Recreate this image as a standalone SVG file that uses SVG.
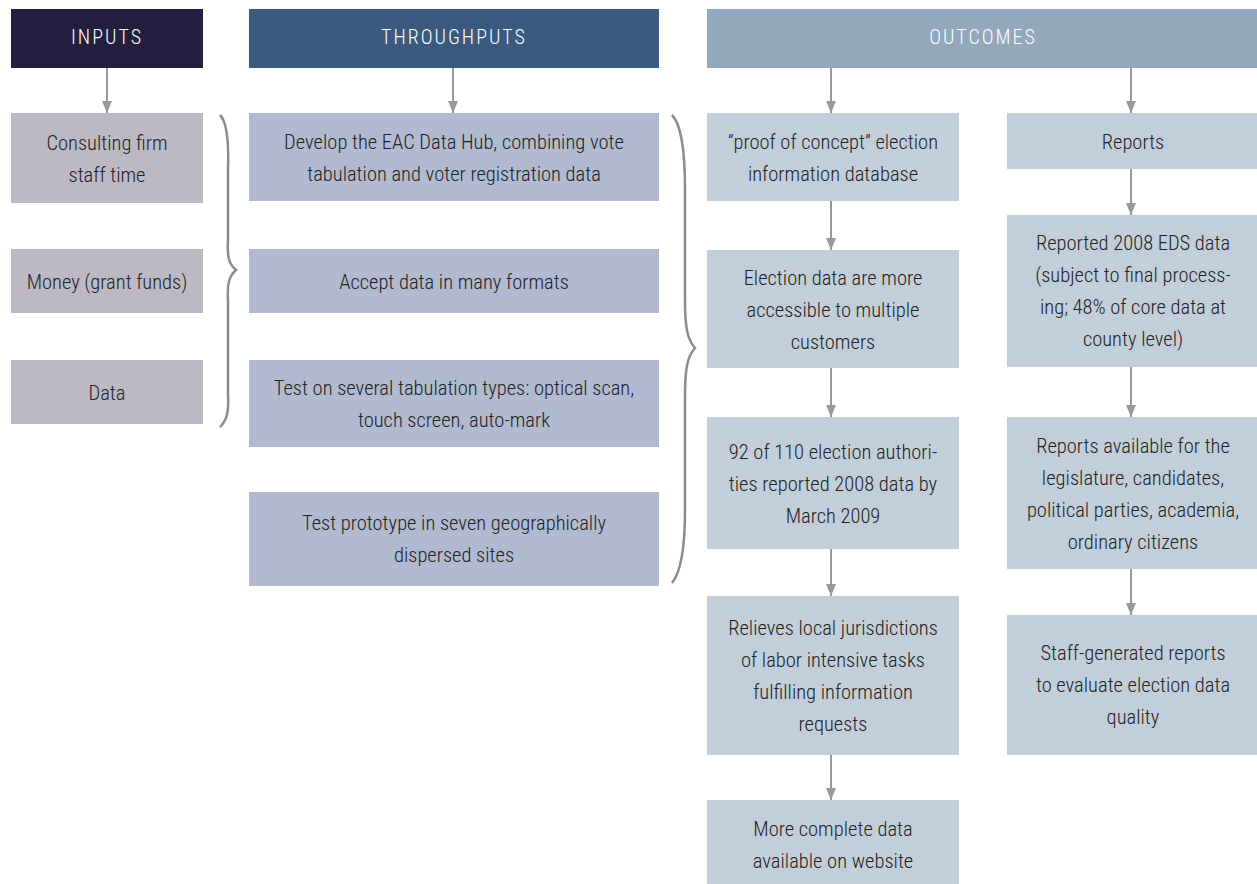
<svg xmlns="http://www.w3.org/2000/svg" width="1257" height="884" viewBox="0 0 1257 884">
<style>
text{font-family:"Liberation Sans Narrow","Roboto Condensed","Liberation Sans",Arial,sans-serif;font-size:20.5px;font-weight:300;fill:#222222;text-anchor:middle}
.hd{fill:#ffffff;letter-spacing:2px;font-size:20px}
.in{fill:#bcb9c4}
.th{fill:#b1bad1}
.oc{fill:#c2cfdb}
.ar{stroke:#999999;stroke-width:2;fill:none}
.br{stroke:#8c8c8c;stroke-width:2.5;fill:none}
</style>
<defs>
<marker id="ah" viewBox="0 0 12 10" refX="12" refY="5" markerWidth="12" markerHeight="10" markerUnits="userSpaceOnUse" orient="auto">
<path d="M0,0 L12,5 L0,10 Z" fill="#999999"/>
</marker>
</defs>
<rect width="1257" height="884" fill="#ffffff"/>

<g id="connectors">
<line class="ar" x1="107" y1="68" x2="107" y2="113" marker-end="url(#ah)"/>
<line class="ar" x1="453" y1="68" x2="453" y2="113" marker-end="url(#ah)"/>
<line class="ar" x1="831" y1="68" x2="831" y2="113" marker-end="url(#ah)"/>
<line class="ar" x1="1131" y1="68" x2="1131" y2="113" marker-end="url(#ah)"/>
<line class="ar" x1="831" y1="201" x2="831" y2="250" marker-end="url(#ah)"/>
<line class="ar" x1="831" y1="368" x2="831" y2="417" marker-end="url(#ah)"/>
<line class="ar" x1="831" y1="549" x2="831" y2="596" marker-end="url(#ah)"/>
<line class="ar" x1="831" y1="755" x2="831" y2="800" marker-end="url(#ah)"/>
<line class="ar" x1="1131" y1="169" x2="1131" y2="215" marker-end="url(#ah)"/>
<line class="ar" x1="1131" y1="367" x2="1131" y2="417" marker-end="url(#ah)"/>
<line class="ar" x1="1131" y1="569" x2="1131" y2="615" marker-end="url(#ah)"/>
<path class="br" d="M220,115 C227,122 229,140 228,170 L228,240 C227,258 229,264 236,270 C229,276 227,284 228,300 L228,395 C229,412 227,420 220,427"/>
<path class="br" d="M672,115 C681,124 685,150 685,190 L685,300 C685,330 688,340 695,348 C688,356 685,366 685,396 L685,510 C685,550 681,572 672,583"/>
</g>

<g id="h-inputs"><rect x="11" y="9" width="192" height="59" fill="#23203f"/><text class="hd" x="107" y="44">INPUTS</text></g>
<g id="h-throughputs"><rect x="249" y="9" width="410" height="59" fill="#3a5a80"/><text class="hd" x="454" y="44">THROUGHPUTS</text></g>
<g id="h-outcomes"><rect x="707" y="9" width="550" height="59" fill="#92a9bd"/><text class="hd" x="983" y="44">OUTCOMES</text></g>

<g id="in1"><rect class="in" x="11" y="113" width="192" height="90"/><text x="107" y="150">Consulting firm</text><text x="107" y="182">staff time</text></g>
<g id="in2"><rect class="in" x="11" y="249" width="192" height="64"/><text x="107" y="289">Money (grant funds)</text></g>
<g id="in3"><rect class="in" x="11" y="360" width="192" height="64"/><text x="107" y="400">Data</text></g>

<g id="th1"><rect class="th" x="249" y="113" width="410" height="88"/><text x="454" y="149">Develop the EAC Data Hub, combining vote</text><text x="454" y="181">tabulation and voter registration data</text></g>
<g id="th2"><rect class="th" x="249" y="249" width="410" height="64"/><text x="454" y="289">Accept data in many formats</text></g>
<g id="th3"><rect class="th" x="249" y="360" width="410" height="87"/><text x="454" y="395">Test on several tabulation types: optical scan,</text><text x="454" y="427">touch screen, auto-mark</text></g>
<g id="th4"><rect class="th" x="249" y="492" width="410" height="94"/><text x="454" y="530">Test prototype in seven geographically</text><text x="454" y="562">dispersed sites</text></g>

<g id="oc1"><rect class="oc" x="707" y="113" width="252" height="88"/><text x="833" y="149">“proof of concept” election</text><text x="833" y="181">information database</text></g>
<g id="oc2"><rect class="oc" x="707" y="250" width="252" height="118"/><text x="833" y="285">Election data are more</text><text x="833" y="317">accessible to multiple</text><text x="833" y="349">customers</text></g>
<g id="oc3"><rect class="oc" x="707" y="417" width="252" height="132"/><text x="833" y="459">92 of 110 election authori-</text><text x="833" y="491">ties reported 2008 data by</text><text x="833" y="523">March 2009</text></g>
<g id="oc4"><rect class="oc" x="707" y="596" width="252" height="159"/><text x="833" y="635">Relieves local jurisdictions</text><text x="833" y="667">of labor intensive tasks</text><text x="833" y="699">fulfilling information</text><text x="833" y="731">requests</text></g>
<g id="oc5"><rect class="oc" x="707" y="800" width="252" height="84"/><text x="833" y="836">More complete data</text><text x="833" y="868">available on website</text></g>

<g id="oc6"><rect class="oc" x="1007" y="113" width="250" height="56"/><text x="1133" y="149">Reports</text></g>
<g id="oc7"><rect class="oc" x="1007" y="215" width="250" height="152"/><text x="1133" y="250">Reported 2008 EDS data</text><text x="1133" y="282">(subject to final process-</text><text x="1133" y="314">ing; 48% of core data at</text><text x="1133" y="346">county level)</text></g>
<g id="oc8"><rect class="oc" x="1007" y="417" width="250" height="152"/><text x="1133" y="453">Reports available for the</text><text x="1133" y="485">legislature, candidates,</text><text x="1133" y="517">political parties, academia,</text><text x="1133" y="549">ordinary citizens</text></g>
<g id="oc9"><rect class="oc" x="1007" y="615" width="250" height="140"/><text x="1133" y="660">Staff-generated reports</text><text x="1133" y="692">to evaluate election data</text><text x="1133" y="724">quality</text></g>
</svg>
